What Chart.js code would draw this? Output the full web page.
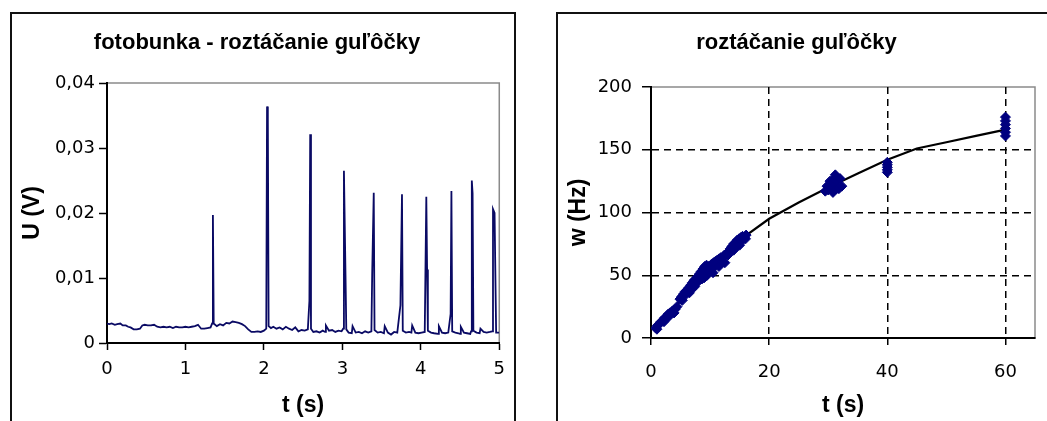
<!DOCTYPE html>
<html>
<head>
<meta charset="utf-8">
<script src="https://cdn.jsdelivr.net/npm/chart.js@4.4.1/dist/chart.umd.min.js"></script>
<style>
html, body { margin: 0; padding: 0; background: #fff; overflow: hidden; width: 1047px; height: 421px; }
.box { position: absolute; border: 2px solid #111; box-sizing: border-box; }
#boxL { left: 10px; top: 12px; width: 506px; height: 440px; }
#boxR { left: 556px; top: 12px; width: 540px; height: 440px; }
canvas { position: absolute; }
</style>
</head>
<body>
<div class="box" id="boxL"></div>
<div class="box" id="boxR"></div>
<canvas id="photoCell" width="502" height="407" style="left:12px;top:14px"></canvas>
<canvas id="spinUp" width="489" height="407" style="left:558px;top:14px"></canvas>
<script>
// photocell signal, U (V) against t (s)
var tSignal = [
  0.00,0.03,0.06,0.10,0.13,0.17,0.20,0.24,0.27,0.30,
  0.34,0.38,0.42,0.45,0.48,0.52,0.56,0.60,0.64,0.68,
  0.72,0.76,0.80,0.84,0.88,0.92,0.96,1.00,1.04,1.08,
  1.12,1.16,1.20,1.24,1.28,1.32,1.34,1.35,1.36,1.40,
  1.44,1.48,1.52,1.56,1.60,1.64,1.68,1.72,1.76,1.80,
  1.84,1.88,1.92,1.96,2.00,2.03,2.04,2.05,2.06,2.09,
  2.12,2.16,2.20,2.24,2.28,2.32,2.36,2.40,2.44,2.48,
  2.52,2.56,2.58,2.59,2.60,2.63,2.67,2.71,2.75,2.78,
  2.79,2.83,2.87,2.91,2.95,2.99,3.01,3.02,3.04,3.05,
  3.08,3.12,3.13,3.17,3.21,3.25,3.29,3.33,3.37,3.38,
  3.40,3.41,3.45,3.49,3.53,3.54,3.58,3.62,3.66,3.70,
  3.74,3.76,3.77,3.81,3.85,3.88,3.89,3.93,3.97,4.01,
  4.05,4.07,4.08,4.09,4.13,4.17,4.22,4.23,4.27,4.31,
  4.35,4.38,4.39,4.40,4.44,4.48,4.50,4.51,4.55,4.59,
  4.63,4.64,4.65,4.66,4.67,4.71,4.75,4.76,4.80,4.84,
  4.88,4.91,4.92,4.94,4.96,5.00];
var uSignal = [
  0.0030,0.0029,0.0030,0.0028,0.0029,0.0030,0.0027,0.0027,0.0025,0.0024,
  0.0021,0.0021,0.0022,0.0027,0.0028,0.0027,0.0027,0.0028,0.0025,0.0024,
  0.0025,0.0024,0.0025,0.0023,0.0025,0.0024,0.0024,0.0025,0.0024,0.0025,
  0.0026,0.0028,0.0022,0.0022,0.0023,0.0024,0.0030,0.0197,0.0030,0.0026,
  0.0029,0.0027,0.0031,0.0030,0.0033,0.0032,0.0031,0.0029,0.0026,0.0021,
  0.0017,0.0017,0.0018,0.0017,0.0019,0.0022,0.0364,0.0345,0.0026,0.0023,
  0.0025,0.0022,0.0024,0.0021,0.0025,0.0022,0.0020,0.0024,0.0018,0.0020,
  0.0019,0.0021,0.0065,0.0321,0.0022,0.0017,0.0018,0.0016,0.0019,0.0017,
  0.0027,0.0019,0.0020,0.0017,0.0019,0.0018,0.0022,0.0265,0.0105,0.0021,
  0.0016,0.0015,0.0026,0.0016,0.0017,0.0015,0.0018,0.0016,0.0018,0.0105,
  0.0231,0.0020,0.0016,0.0017,0.0015,0.0026,0.0016,0.0013,0.0017,0.0016,
  0.0058,0.0229,0.0019,0.0016,0.0017,0.0016,0.0027,0.0016,0.0015,0.0016,
  0.0017,0.0225,0.0113,0.0019,0.0016,0.0015,0.0014,0.0026,0.0016,0.0015,
  0.0016,0.0045,0.0234,0.0018,0.0016,0.0015,0.0014,0.0025,0.0016,0.0015,
  0.0014,0.0018,0.0250,0.0230,0.0019,0.0016,0.0015,0.0022,0.0017,0.0016,
  0.0017,0.0018,0.0206,0.0200,0.0016,0.0016];
var uTickLabels = ['0', '0,01', '0,02', '0,03', '0,04'];
var tTickLabelsL = ['0', '1', '2', '3', '4', '5'];

// measured spin-up, w (Hz) against t (s)
var tSpin = [0.8,1.0,1.1,1.4,1.7,2.0,2.2,2.3,2.6,2.9,3.0,3.2,3.5,3.8,3.9,4.1,4.4,
  4.9,5.2,5.3,5.5,5.8,6.0,6.1,6.4,6.5,6.7,6.9,7.0,7.3,7.4,7.6,7.9,8.0,8.2,
  8.5,8.6,8.8,9.0,9.1,9.2,9.4,9.5,9.7,9.8,10.0,10.2,10.3,10.5,10.6,10.8,10.9,11.0,11.2,11.5,11.5,11.8,12.0,12.1,12.4,12.5,12.7,13.0,
  13.4,13.7,13.8,14.0,14.0,14.3,14.5,14.6,14.9,15.0,15.2,15.3,15.5,15.8,16.0,16.1,
  29.5,29.8,30.0,30.2,30.3,30.5,30.8,31.0,31.0,31.2,31.4,31.5,31.8,32.0,32.3,
  40,40,40,40,40,
  60,60,60,60,60,60];
var wSpin = [8,7,10,11,13,14,13,16,17,19,17,20,21,22,20,23,25,
  31,33,30,35,37,35,38,40,36,42,39,44,46,41,47,49,45,51,
  53,47,55,48,57,54,58,50,57,53,56,58,59,52,60,57,61,59,62,63,57,64,61,64,66,60,67,66,
  71,73,70,75,70,76,73,78,79,74,80,77,81,80,79,82,
  117,121,118,122,125,120,116,122,127,130,119,125,119,127,121,
  132,134,136,138,140,
  161,164,167,170,173,176];
// fitted curve
var tFit = [1, 5, 10, 15, 20, 25, 30, 35, 40, 45, 50, 55, 60];
var wFit = [8, 30, 55, 78, 95, 108, 120, 131, 142, 151, 156, 161, 166];
var wTickLabels = ['0', '50', '100', '150', '200'];
var tTickLabelsR = ['0', '20', '40', '60'];

Chart.defaults.font.family = '"Liberation Sans", Arial, sans-serif';
Chart.defaults.color = '#000';
Chart.defaults.animation = false;

function pairs(xs, ys) {
  var out = [];
  for (var i = 0; i < xs.length; i++) {
    out.push({x: xs[i], y: ys[i]});
  }
  return out;
}

// gray frame round the plot area, axes are drawn over it in black
var plotFrame = {
  id: 'plotFrame',
  beforeDraw: function(chart) {
    var a = chart.chartArea;
    var ctx = chart.ctx;
    ctx.save();
    ctx.strokeStyle = '#8a8a8a';
    ctx.lineWidth = 1.5;
    ctx.strokeRect(a.left, a.top, a.right - a.left, a.bottom - a.top);
    ctx.restore();
  }
};

var tickFont = {family: '"DejaVu Sans", sans-serif', size: 18};
var axisTitleFont = {size: 23, weight: 'bold'};
var chartTitleFont = {size: 22, weight: 'bold'};

new Chart(document.getElementById('photoCell'), {
  type: 'scatter',
  data: {
    datasets: [{
      data: pairs(tSignal, uSignal),
      showLine: true,
      borderColor: '#0a0a64',
      borderWidth: 1.8,
      pointRadius: 0,
      tension: 0
    }]
  },
  options: {
    responsive: false,
    layout: {padding: {left: 0, right: 12, top: 0, bottom: 0}},
    plugins: {
      legend: {display: false},
      tooltip: {enabled: false},
      title: {
        display: true,
        text: 'fotobunka - roztáčanie guľôčky',
        font: chartTitleFont,
        color: '#000',
        padding: {top: 16, bottom: 26.6}
      }
    },
    scales: {
      x: {
        type: 'linear', min: 0, max: 5,
        afterFit: function(s) { s.height = 78; },
        ticks: {stepSize: 1, font: tickFont, padding: 9, maxRotation: 0,
          callback: function(v, i) { return tTickLabelsL[i]; }},
        grid: {drawOnChartArea: false, tickLength: 7, tickColor: '#000', tickWidth: 1.5},
        border: {color: '#000', width: 2},
        title: {display: true, text: 't (s)', font: axisTitleFont, padding: {top: 0, bottom: 2}}
      },
      y: {
        min: 0, max: 0.04,
        afterFit: function(s) { s.width = 95; },
        ticks: {stepSize: 0.01, font: tickFont, padding: 4,
          callback: function(v, i) { return uTickLabels[i]; }},
        grid: {drawOnChartArea: false, tickLength: 8, tickColor: '#000', tickWidth: 1.5},
        border: {color: '#000', width: 2},
        title: {display: true, text: 'U (V)', font: axisTitleFont, padding: {top: 7, bottom: 0}}
      }
    }
  },
  plugins: [plotFrame]
});

function dashedInside(values) {
  return function(c) {
    if (c.tick && values.indexOf(c.tick.value) >= 0) return '#000';
    return 'rgba(0,0,0,0)';
  };
}

new Chart(document.getElementById('spinUp'), {
  type: 'scatter',
  data: {
    datasets: [{
      data: pairs(tSpin, wSpin),
      pointStyle: 'rectRot',
      pointRadius: 5,
      backgroundColor: '#00007f',
      borderColor: '#00007f',
      borderWidth: 1
    }, {
      data: pairs(tFit, wFit),
      showLine: true,
      borderColor: '#000',
      borderWidth: 2.2,
      pointRadius: 0,
      tension: 0
    }]
  },
  options: {
    responsive: false,
    layout: {padding: {left: 0, right: 12, top: 0, bottom: 0}},
    plugins: {
      legend: {display: false},
      tooltip: {enabled: false},
      title: {
        display: true,
        text: 'roztáčanie guľôčky',
        font: chartTitleFont,
        color: '#000',
        padding: {top: 16, bottom: 30.6}
      }
    },
    scales: {
      x: {
        type: 'linear', min: 0, max: 65,
        afterFit: function(s) { s.height = 83; },
        ticks: {stepSize: 20, includeBounds: false, font: tickFont, padding: 17, maxRotation: 0,
          callback: function(v, i) { return tTickLabelsR[i]; }},
        grid: {color: dashedInside([20, 40, 60]), lineWidth: 1.5, tickLength: 7, tickColor: '#000', tickWidth: 1.5, tickBorderDash: []},
        border: {color: '#000', width: 2, dash: [7, 5]},
        title: {display: true, text: 't (s)', font: axisTitleFont, padding: {top: 0, bottom: 2}}
      },
      y: {
        min: 0, max: 200,
        afterFit: function(s) { s.width = 93; },
        ticks: {stepSize: 50, font: tickFont, padding: 10,
          callback: function(v, i) { return wTickLabels[i]; }},
        grid: {color: dashedInside([50, 100, 150]), lineWidth: 1.5, tickLength: 9, tickColor: '#000', tickWidth: 1.5, tickBorderDash: []},
        border: {color: '#000', width: 2, dash: [7, 5]},
        title: {display: true, text: 'w (Hz)', font: axisTitleFont, padding: {top: 7, bottom: 0}}
      }
    }
  },
  plugins: [plotFrame]
});
</script>
</body>
</html>
